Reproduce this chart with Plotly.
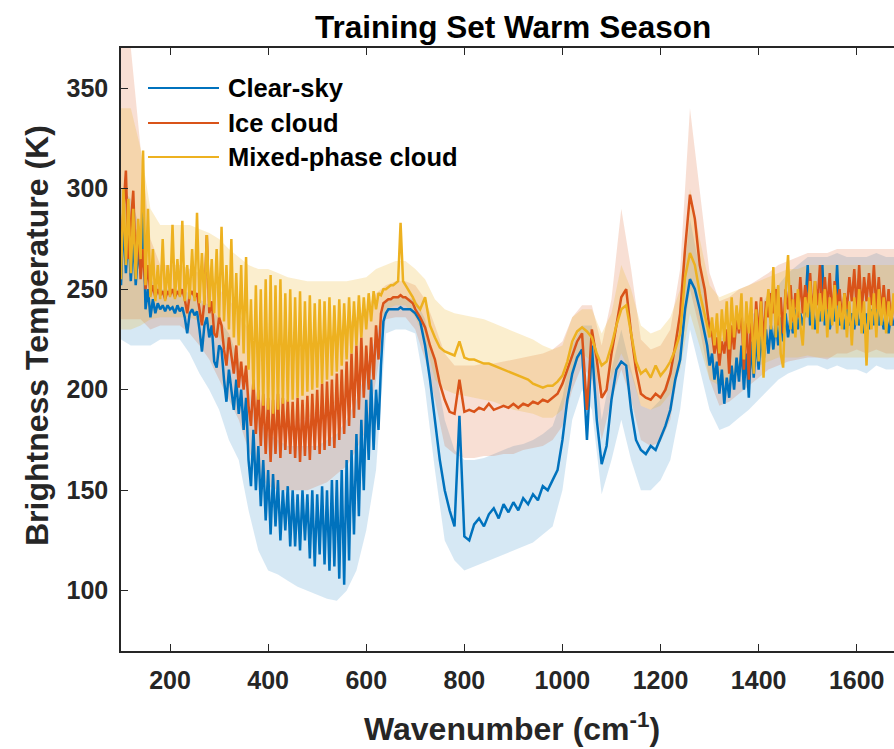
import plotly.graph_objects as go

# ---------------- data ----------------
wn_fine = list(range(100, 701, 5))        # 100..700 cm-1, step 5
wn_mid = list(range(710, 1291, 10))       # 710..1290 cm-1, step 10
wn_high = list(range(1295, 1681, 5))      # 1295..1680 cm-1, step 5
wn_band = list(range(100, 1681, 20))      # band grid

clear_fine = [
    252, 285, 258, 280, 254, 275, 252, 270, 258, 290,
    240, 250, 236, 245, 238, 243, 240, 242, 239, 242,
    240, 241, 238, 242, 239, 241, 236, 228, 238, 240,
    237, 239, 230, 219, 232, 236, 226, 232, 214, 211,
    222, 220, 205, 194, 210, 200, 190, 205, 188, 200,
    180, 196, 165, 152, 180, 150, 172, 142, 165, 135,
    160, 128, 158, 132, 155, 125, 150, 130, 152, 122,
    150, 122, 148, 120, 150, 125, 148, 116, 150, 112,
    148, 118, 152, 113, 150, 110, 155, 112, 155, 106,
    160, 103, 165, 115, 170, 128, 178, 137, 185, 150,
    195, 165, 205, 170, 200, 180, 212, 234, 238, 240,
    240, 240, 240, 240, 241, 240, 240, 240, 240, 239,
    238]
ice_fine = [
    270, 290, 309, 265, 285, 299, 262, 280, 255, 270,
    250, 262, 247, 252, 246, 250, 247, 249, 245, 249,
    247, 250, 246, 249, 247, 250, 245, 238, 247, 249,
    246, 248, 240, 232, 244, 277, 238, 244, 228, 226,
    236, 232, 220, 212, 226, 216, 208, 222, 201, 214,
    200, 212, 192, 182, 205, 178, 200, 172, 198, 168,
    196, 164, 195, 168, 198, 166, 196, 170, 195, 168,
    194, 166, 196, 164, 195, 167, 197, 165, 198, 170,
    200, 168, 203, 170, 204, 172, 205, 171, 208, 175,
    210, 178, 214, 182, 218, 186, 222, 190, 226, 196,
    222, 200, 226, 205, 232, 215, 238, 243, 244, 245,
    245, 246, 246, 246, 247, 246, 246, 245, 244, 243,
    240]
mixed_fine = [
    255, 300, 262, 295, 258, 290, 255, 285, 265, 319,
    252, 290, 246, 270, 244, 262, 245, 275, 244, 262,
    246, 282, 245, 265, 246, 284, 244, 262, 245, 270,
    244, 288, 243, 268, 242, 277, 241, 265, 238, 270,
    236, 281, 234, 262, 230, 275, 226, 258, 222, 262,
    218, 266, 210, 245, 200, 252, 195, 250, 192, 255,
    190, 257, 188, 252, 190, 255, 193, 248, 194, 250,
    195, 246, 196, 249, 197, 244, 199, 247, 200, 243,
    201, 245, 203, 244, 205, 246, 207, 242, 209, 245,
    212, 243, 215, 246, 218, 244, 222, 247, 226, 246,
    230, 248, 234, 249, 240, 248, 247, 250, 250, 251,
    252, 252, 253, 254, 283, 254, 252, 250, 248, 246,
    243]

clear_mid = [
    234, 222, 205, 185, 165, 150, 140, 132, 187, 127,
    125, 133, 136, 132, 138, 141, 136, 143, 139, 144,
    140, 146, 143, 148, 145, 152, 150, 155, 160, 175,
    195, 208, 216, 220, 175, 222, 185, 163, 172, 195,
    210, 214, 212, 190, 175, 170, 168, 172, 170, 176,
    182, 190, 205, 215, 240, 255, 250, 240, 228]
ice_mid = [
    236, 231, 222, 215, 203, 195, 189, 188, 205, 189,
    190, 189, 191, 190, 193, 190, 191, 192, 191, 193,
    191, 193, 192, 194, 193, 195, 194, 196, 198, 203,
    210, 218, 224, 228, 190, 230, 215, 196, 200, 218,
    232, 246, 250, 228, 210, 198, 196, 195, 198, 196,
    200, 208, 222, 238, 270, 297, 285, 262, 250]
mixed_mid = [
    240, 246, 232, 226, 221, 219, 218, 217, 224, 216,
    215, 215, 214, 213, 213, 212, 211, 210, 209, 208,
    207, 206, 205, 203, 202, 201, 202, 202, 204, 207,
    214, 224, 229, 231, 229, 226, 218, 212, 214, 222,
    232, 240, 242, 228, 214, 208, 210, 206, 212, 207,
    210, 214, 220, 228, 256, 268, 262, 248, 238]

clear_high = [
    222, 212, 218, 205, 214, 198, 210, 193, 206, 196,
    212, 200, 216, 204, 222, 200, 218, 196, 224, 206,
    226, 210, 228, 214, 230, 218, 232, 220, 234, 222,
    236, 224, 238, 226, 236, 228, 240, 230, 238, 232,
    240, 262, 232, 240, 230, 238, 234, 262, 232, 240,
    230, 238, 234, 262, 232, 238, 230, 240, 232, 238,
    230, 240, 232, 236, 228, 238, 230, 240, 232, 244,
    232, 238, 230, 236, 228, 238, 232, 236]
ice_high = [
    240, 230, 228, 218, 226, 212, 224, 218, 230, 208,
    232, 220, 236, 228, 240, 210, 236, 205, 240, 218,
    244, 226, 246, 222, 244, 236, 248, 238, 250, 232,
    246, 228, 250, 240, 252, 234, 248, 236, 256, 238,
    252, 240, 258, 236, 254, 242, 262, 238, 256, 240,
    258, 236, 254, 242, 250, 234, 248, 240, 256, 244,
    260, 240, 262, 238, 256, 244, 258, 242, 262, 240,
    256, 238, 252, 236, 250, 232, 246, 238]
mixed_high = [
    232, 226, 236, 222, 238, 218, 240, 224, 244, 220,
    246, 226, 242, 230, 248, 215, 244, 228, 246, 208,
    240, 214, 244, 206, 238, 250, 230, 261, 226, 252,
    218, 211, 248, 267, 230, 245, 226, 250, 232, 222,
    246, 236, 254, 230, 254, 228, 248, 234, 250, 226,
    246, 232, 252, 228, 244, 230, 248, 226, 244, 222,
    246, 232, 250, 228, 244, 212, 246, 230, 248, 226,
    250, 232, 246, 228, 244, 232, 248, 230]

clear_band_hi = [
    300, 295, 280, 255, 250, 250, 250, 248, 245, 242,
    235, 228, 215, 200, 185, 178, 175, 172, 172, 172,
    172, 175, 178, 185, 195, 210, 228, 245, 246, 246,
    245, 235, 212, 185, 170, 165, 165, 166, 168, 170,
    172, 173, 175, 178, 182, 196, 222, 232, 232, 185,
    210, 230, 210, 192, 190, 195, 210, 240, 285, 260,
    235, 225, 228, 232, 236, 240, 248, 252, 258, 262,
    266, 266, 266, 268, 266, 266, 266, 268, 266, 266]
clear_band_lo = [
    225, 222, 222, 222, 225, 225, 225, 218, 208, 200,
    190, 175, 165, 140, 120, 110, 108, 105, 102, 100,
    98, 96, 95, 100, 110, 130, 160, 228, 230, 230,
    228, 200, 160, 125, 115, 110, 112, 114, 116, 118,
    120, 122, 124, 128, 132, 150, 185, 200, 190, 148,
    165, 185, 165, 150, 150, 155, 165, 190, 230, 210,
    190, 180, 182, 186, 190, 195, 200, 205, 208, 210,
    212, 212, 210, 212, 210, 210, 208, 212, 210, 210]
ice_band_hi = [
    370, 370, 320, 275, 262, 262, 262, 260, 258, 255,
    250, 245, 238, 230, 222, 220, 220, 220, 220, 222,
    224, 226, 228, 232, 236, 240, 248, 252, 254, 254,
    252, 245, 232, 218, 212, 212, 212, 213, 213, 214,
    215, 216, 217, 218, 220, 224, 236, 242, 242, 222,
    245, 290, 260, 225, 220, 222, 230, 260, 340, 300,
    258, 244, 246, 250, 252, 255, 258, 262, 264, 266,
    268, 268, 268, 270, 270, 270, 270, 270, 270, 270]
ice_band_lo = [
    235, 235, 235, 230, 232, 232, 232, 228, 222, 215,
    205, 195, 185, 170, 158, 152, 150, 150, 150, 150,
    152, 154, 158, 162, 170, 180, 205, 235, 236, 236,
    230, 215, 195, 172, 168, 166, 166, 167, 167, 168,
    168, 170, 171, 172, 175, 182, 200, 212, 205, 175,
    195, 210, 195, 175, 172, 174, 185, 215, 250, 230,
    205, 192, 194, 198, 202, 206, 210, 212, 214, 215,
    216, 216, 215, 218, 218, 220, 218, 220, 218, 218]
mixed_band_hi = [
    340, 340, 320, 290, 282, 282, 282, 282, 280, 278,
    275, 270, 266, 262, 260, 260, 258, 256, 255, 254,
    254, 254, 254, 254, 255, 256, 260, 262, 264, 264,
    260, 255, 245, 240, 238, 237, 236, 235, 233, 231,
    229, 227, 225, 222, 220, 222, 236, 240, 240, 228,
    238, 262, 250, 232, 228, 230, 236, 250, 300, 275,
    252, 246, 248, 250, 252, 254, 256, 258, 260, 260,
    262, 262, 262, 262, 262, 262, 262, 262, 262, 262]
mixed_band_lo = [
    230, 230, 232, 235, 236, 236, 236, 236, 234, 232,
    226, 218, 210, 200, 185, 180, 180, 182, 184, 186,
    188, 190, 194, 198, 204, 212, 228, 240, 242, 242,
    236, 225, 205, 200, 198, 197, 196, 195, 194, 192,
    190, 189, 188, 186, 186, 190, 210, 218, 214, 198,
    206, 218, 208, 192, 190, 192, 198, 210, 238, 222,
    205, 202, 204, 208, 210, 212, 214, 216, 216, 216,
    217, 216, 216, 216, 216, 216, 216, 216, 216, 216]

series_names = ["Clear-sky", "Ice cloud", "Mixed-phase cloud"]
y_ticks = [100, 150, 200, 250, 300, 350]
x_ticks = [200, 400, 600, 800, 1000, 1200, 1400, 1600]

# ---------------- styling ----------------
colors = ["#0072BD", "#D95319", "#EDB120"]
band_fill = ["rgba(0,114,189,0.16)", "rgba(217,83,25,0.19)", "rgba(237,177,32,0.22)"]
FONT = "Liberation Sans, Arial, sans-serif"
AX = "#262626"

W, H = 894, 749
L, R, T, B = 121, 894, 48, 651
PW, PH = R - L, B - T


def px_x(px):
    return (px - L) / PW


def px_y(py):
    return (B - py) / PH


wn = wn_fine + wn_mid + wn_high
lines = [clear_fine + clear_mid + clear_high,
         ice_fine + ice_mid + ice_high,
         mixed_fine + mixed_mid + mixed_high]
bands = [(clear_band_hi, clear_band_lo), (ice_band_hi, ice_band_lo),
         (mixed_band_hi, mixed_band_lo)]

fig = go.Figure()
for (hi, lo), fc in zip(bands, band_fill):
    fig.add_trace(go.Scatter(
        x=wn_band + wn_band[::-1], y=hi + lo[::-1], fill="toself",
        fillcolor=fc, line=dict(width=0), mode="lines",
        hoverinfo="skip", showlegend=False))
for name, y, c in zip(series_names, lines, colors):
    fig.add_trace(go.Scatter(x=wn, y=y, mode="lines", name=name,
                             line=dict(color=c, width=2.5), showlegend=False))

# manual MATLAB-style legend
shapes = []
annotations = []
legend_y = [88, 123, 157]
for name, c, ly in zip(series_names, colors, legend_y):
    shapes.append(dict(type="line", xref="paper", yref="paper",
                       x0=px_x(148), x1=px_x(219), y0=px_y(ly), y1=px_y(ly),
                       line=dict(color=c, width=2)))
    annotations.append(dict(xref="paper", yref="paper", x=px_x(226), y=px_y(ly),
                            text=name, showarrow=False, xanchor="left", yanchor="middle",
                            font=dict(family=FONT, size=25.5, color="black", weight="bold")))

annotations.append(dict(xref="paper", yref="paper", x=px_x(513), y=px_y(27),
                        text="Training Set Warm Season", showarrow=False,
                        xanchor="center", yanchor="middle",
                        font=dict(family=FONT, size=31.5, color="black", weight="bold")))
annotations.append(dict(xref="paper", yref="paper", x=px_x(512), y=px_y(727),
                        text="Wavenumber (cm<sup>-1</sup>)", showarrow=False,
                        xanchor="center", yanchor="middle",
                        font=dict(family=FONT, size=32, color=AX, weight="bold")))
annotations.append(dict(xref="paper", yref="paper", x=px_x(37), y=px_y(336),
                        text="Brightness Temperature (K)", showarrow=False, textangle=-90,
                        xanchor="center", yanchor="middle",
                        font=dict(family=FONT, size=32, color=AX, weight="bold")))

fig.update_layout(
    width=W, height=H,
    margin=dict(l=L, r=W - R, t=T, b=H - B, pad=0),
    paper_bgcolor="white", plot_bgcolor="white",
    showlegend=False,
    shapes=shapes, annotations=annotations,
    xaxis=dict(range=[100, 1676], tickvals=x_ticks, ticks="inside", ticklen=7,
               tickwidth=1.3, tickcolor=AX, showline=True, linecolor=AX, linewidth=1.5,
               mirror="ticks", showgrid=False, zeroline=False, ticklabelstandoff=6,
               tickfont=dict(family=FONT, size=25, color=AX, weight="bold")),
    yaxis=dict(range=[70, 370], tickvals=y_ticks, ticks="inside", ticklen=7,
               tickwidth=1.3, tickcolor=AX, showline=True, linecolor=AX, linewidth=1.5,
               showgrid=False, zeroline=False, ticklabelstandoff=6,
               tickfont=dict(family=FONT, size=25, color=AX, weight="bold")),
)

fig.write_html("out.html")
